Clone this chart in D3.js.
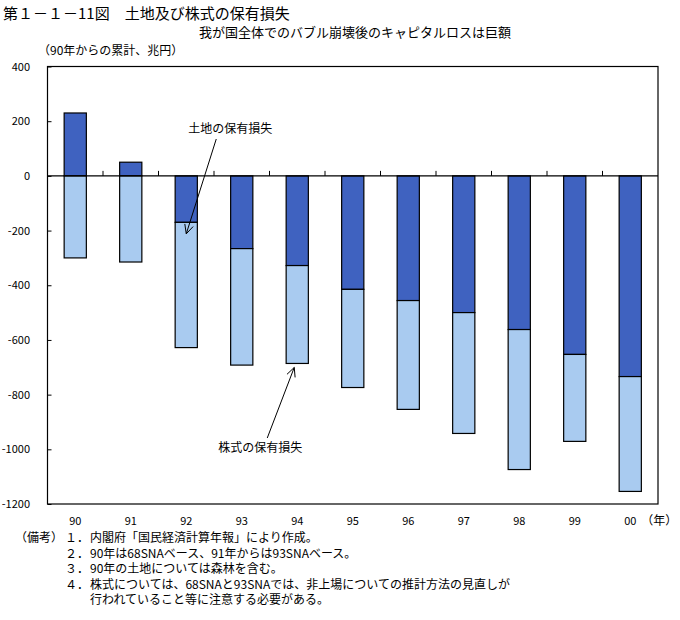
<!DOCTYPE html>
<html>
<head>
<meta charset="utf-8">
<script src="https://cdn.jsdelivr.net/npm/d3@7/dist/d3.min.js"></script>
<style>
  body { margin: 0; background: #fff; }
  svg { display: block; }
  text { font-family: "Noto Sans CJK JP", "Noto Sans", sans-serif; fill: #000; }
</style>
</head>
<body>
<svg id="chart" width="680" height="620"></svg>
<script>
// ---- data (兆円, 90年からの累計) ----
const years = ["90", "91", "92", "93", "94", "95", "96", "97", "98", "99", "00"];
const landLoss = [230, 50, -170, -266, -328, -415, -456, -500, -562, -653, -734];
const stockLoss = [-300, -315, -458, -426, -358, -359, -398, -442, -512, -318, -420];
const yTicks = [400, 200, 0, -200, -400, -600, -800, -1000, -1200];
const seriesNames = ["土地の保有損失", "株式の保有損失"];
const titleText = "第１－１－11図　土地及び株式の保有損失";
const subtitleText = "我が国全体でのバブル崩壊後のキャピタルロスは巨額";
const unitText = "（90年からの累計、兆円）";
const xUnitText = "（年）";
const notes = [
  ["（備考）", "１．", "内閣府「国民経済計算年報」により作成。"],
  ["", "２．", "90年は68SNAベース、91年からは93SNAベース。"],
  ["", "３．", "90年の土地については森林を含む。"],
  ["", "４．", "株式については、68SNAと93SNAでは、非上場についての推計方法の見直しが"],
  ["", "", "行われていること等に注意する必要がある。"]
];

const colors = { land: "#3F62C0", stock: "#A9CBF0" };

const svg = d3.select("#chart");
const plot = { left: 47.5, right: 658, top: 66.5, bottom: 504 };

const x = d3.scaleBand().domain(years).range([plot.left, plot.right])
  .paddingInner(0.6).paddingOuter(0.3);
const y = d3.scaleLinear().domain([-1200, 400]).range([plot.bottom, plot.top]);

const table = years.map((yr, i) => ({ year: yr, land: landLoss[i], stock: stockLoss[i] }));
const stacked = d3.stack().keys(["land", "stock"]).offset(d3.stackOffsetDiverging)(table);

// titles
svg.append("text").attr("x", 3).attr("y", 19).style("font-size", "15px").text(titleText);
svg.append("text").attr("x", 511).attr("y", 37).attr("text-anchor", "end").style("font-size", "13px").text(subtitleText);
svg.append("text").attr("x", 38).attr("y", 55).style("font-size", "12px").text(unitText);

// bars
svg.append("g").selectAll("g").data(stacked).join("g")
  .attr("fill", d => colors[d.key])
  .selectAll("rect").data(d => d).join("rect")
  .attr("x", d => x(d.data.year))
  .attr("width", x.bandwidth())
  .attr("y", d => y(Math.max(d[0], d[1])))
  .attr("height", d => Math.abs(y(d[0]) - y(d[1])))
  .attr("stroke", "#000").attr("stroke-width", 1.2);

// frame
svg.append("rect").attr("x", plot.left).attr("y", plot.top)
  .attr("width", plot.right - plot.left).attr("height", plot.bottom - plot.top)
  .attr("fill", "none").attr("stroke", "#000").attr("stroke-width", 1.2);

// y axis (inner ticks)
const yAxis = d3.axisRight(y).tickValues(yTicks).tickSize(4).tickFormat("");
const gy = svg.append("g").attr("transform", `translate(${plot.left},0)`).call(yAxis);
gy.select(".domain").remove();
gy.selectAll("line").attr("stroke", "#000");
svg.append("g").selectAll("text").data(yTicks).join("text")
  .attr("x", 30).attr("y", d => y(d) + 4)
  .attr("text-anchor", "end").style("font-size", "11px").text(d => d);

// zero line with category separator ticks
svg.append("line").attr("x1", plot.left).attr("x2", plot.right)
  .attr("y1", y(0)).attr("y2", y(0)).attr("stroke", "#000").attr("stroke-width", 1.2);
svg.append("g").selectAll("line").data(years.slice(1)).join("line")
  .attr("x1", d => x(d) + x.bandwidth() / 2 - x.step() / 2)
  .attr("x2", d => x(d) + x.bandwidth() / 2 - x.step() / 2)
  .attr("y1", y(0)).attr("y2", y(0) - 5).attr("stroke", "#000");

// x labels
svg.append("g").selectAll("text").data(years).join("text")
  .attr("x", d => x(d) + x.bandwidth() / 2).attr("y", 525)
  .attr("text-anchor", "middle").style("font-size", "11px").text(d => d);
svg.append("text").attr("x", x("00") + x.bandwidth() / 2 + 11).attr("y", 525)
  .style("font-size", "12px").text(xUnitText);

// annotations
function arrow(x1, y1, x2, y2) {
  const g = svg.append("g").attr("stroke", "#000").attr("stroke-width", 1).attr("fill", "none");
  g.append("line").attr("x1", x1).attr("y1", y1).attr("x2", x2).attr("y2", y2);
  const ang = Math.atan2(y1 - y2, x1 - x2);
  const L = 10, spread = 0.45;
  [-spread, spread].forEach(s => {
    g.append("line").attr("x1", x2).attr("y1", y2)
      .attr("x2", x2 + L * Math.cos(ang + s)).attr("y2", y2 + L * Math.sin(ang + s));
  });
}
const c92 = x("92") + x.bandwidth() / 2;
const c94 = x("94") + x.bandwidth() / 2;
svg.append("text").attr("x", c92 + 44).attr("y", 133).attr("text-anchor", "middle")
  .style("font-size", "12px").text(seriesNames[0]);
arrow(c92 + 30, 139, c92, y(-212));
svg.append("text").attr("x", c94 - 37).attr("y", 452).attr("text-anchor", "middle")
  .style("font-size", "12px").text(seriesNames[1]);
arrow(c94 - 30, 438, c94 - 3, y(stockLoss[4] + landLoss[4]) + 4);

// notes
const noteY0 = 542, noteDy = 15.5;
notes.forEach((n, i) => {
  const yy = noteY0 + i * noteDy;
  if (n[0]) svg.append("text").attr("x", 15).attr("y", yy).style("font-size", "12px").text(n[0]);
  if (n[1]) svg.append("text").attr("x", 65).attr("y", yy).style("font-size", "12px").text(n[1]);
  svg.append("text").attr("x", 90).attr("y", yy).style("font-size", "12px").text(n[2]);
});
</script>
</body>
</html>
